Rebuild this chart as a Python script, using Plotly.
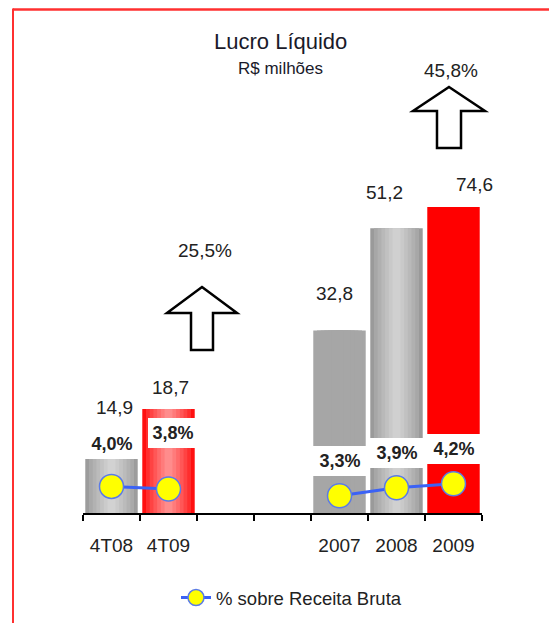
import plotly.graph_objects as go

# ---- data ----
categories = ["4T08", "4T09", "", "", "2007", "2008", "2009"]
bar_categories = ["4T08", "4T09", "2007", "2008", "2009"]
lucro = [14.9, 18.7, 32.8, 51.2, 74.6]
pct_receita = [4.0, 3.8, None, None, 3.3, 3.9, 4.2]
growth_labels = ["25,5%", "45,8%"]
title_text = "Lucro Líquido"
subtitle_text = "R$ milhões"
legend_name = "% sobre Receita Bruta"

# ---- style ----
FONT = "Liberation Sans, Arial, sans-serif"
TXT = "#222222"
edge_colors = ["#9C9C9C", "#FF1010", "#A6A6A6", "#9A9A9A", "#FF0000"]
center_colors = ["#D2D2D2", "#FF8C8C", "#A6A6A6", "#D0D0D0", "#FF0000"]
OFF = 8                      # page body margin of the html page
W, H = 557 - OFF, 623 - OFF  # figure size so it fills the window exactly
# plot area in page pixels: x 83..482, y 207..513
ML, MT = 83 - OFF, 207 - OFF
MR, MB = W - (482 - OFF), H - (513 - OFF)
Y1_MAX = 55
Y2_RANGE = [2.0, 25.0]
BAR_W = 0.92

def fmt(v, suffix=""):
    return f"{v:.1f}".replace(".", ",") + suffix

def hex2rgb(h):
    h = h.lstrip("#")
    return [int(h[i:i + 2], 16) for i in (0, 2, 4)]

def mix(a, b, t):
    ra, rb = hex2rgb(a), hex2rgb(b)
    return "rgb(%d,%d,%d)" % tuple(round(x + (y - x) * t) for x, y in zip(ra, rb))

# page pixel -> paper coordinates
def px(x):
    return (x - OFF - ML) / (W - ML - MR)

def py(y):
    return (H - MB - (y - OFF)) / (H - MT - MB)

# category slots on a linear axis (blank slots keep the gap between groups)
slot = list(range(len(categories)))
bar_slot = [categories.index(c) for c in bar_categories]

fig = go.Figure()

# bars drawn as nested layers to mimic the cylinder shading
n_layers = 7
for k in range(n_layers):
    t = k / (n_layers - 1)
    w = BAR_W * (1 - 0.85 * t)
    cols = [mix(e, c, t ** 0.8) for e, c in zip(edge_colors, center_colors)]
    fig.add_trace(go.Bar(
        x=bar_slot, y=lucro, width=[w] * len(lucro),
        marker=dict(color=cols, line=dict(width=0)),
        showlegend=False, hoverinfo="skip",
    ))

fig.add_trace(go.Scatter(
    x=slot, y=pct_receita, yaxis="y2", name=legend_name,
    mode="lines+markers", connectgaps=False,
    line=dict(color="#3B62F5", width=3),
    marker=dict(color="#FFFF00", size=24, line=dict(color="#5A7BE8", width=1.5)),
))

annotations = []
# value labels above bars
val_dx = [3, 2, -5, -12, 21]
val_dy = [23, 21, 37, 36, 23]
for s, v, dx, dy in zip(bar_slot, lucro, val_dx, val_dy):
    annotations.append(dict(
        x=s, y=min(v, Y1_MAX), xref="x", yref="y", text=fmt(v), showarrow=False,
        xanchor="center", yanchor="middle",
        xshift=dx, yshift=dy, font=dict(family=FONT, size=19, color=TXT),
    ))

# percent labels in white boxes
pct_points = [(s, p) for s, p in zip(slot, pct_receita) if p is not None]
pct_dx = [0, 4, 0, 0, 0]
pct_dy = [42, 56, 35, 35, 35]
pct_w = [54, 50, 56, 56, 56]
for (s, p), dx, dy, bw in zip(pct_points, pct_dx, pct_dy, pct_w):
    annotations.append(dict(
        x=s, y=p, xref="x", yref="y2", text="<b>" + fmt(p, "%") + "</b>",
        showarrow=False, xanchor="center", yanchor="middle",
        xshift=dx, yshift=dy, width=bw, height=30,
        bgcolor="white", borderpad=0, borderwidth=0,
        font=dict(family=FONT, size=18, color=TXT),
    ))

# titles
annotations.append(dict(x=px(280), y=py(42), xref="paper", yref="paper", text=title_text,
                        showarrow=False, xanchor="center", yanchor="middle",
                        font=dict(family=FONT, size=22, color="#1a1a2a")))
annotations.append(dict(x=px(280), y=py(68), xref="paper", yref="paper", text=subtitle_text,
                        showarrow=False, xanchor="center", yanchor="middle",
                        font=dict(family=FONT, size=17, color="#1a1a2a")))

# growth arrows
arrow_specs = [
    # tip x, tip y, head base y, head half width, shaft half width, bottom y, label y, label x
    (202, 287, 313, 35, 11, 350, 250, 205),
    (449, 87, 111, 36, 12, 148, 70, 451),
]
shapes = []
for (tx, ty, hb, hw, sw, bot, ly, lx), lab in zip(arrow_specs, growth_labels):
    pts = [(tx, ty), (tx + hw, hb), (tx + sw, hb), (tx + sw, bot),
           (tx - sw, bot), (tx - sw, hb), (tx - hw, hb)]
    path = "M " + " L ".join(f"{px(a):.4f},{py(b):.4f}" for a, b in pts) + " Z"
    shapes.append(dict(type="path", path=path, xref="paper", yref="paper",
                       line=dict(color="black", width=2.5), fillcolor="white"))
    annotations.append(dict(x=px(lx), y=py(ly), xref="paper", yref="paper", text=lab,
                            showarrow=False, xanchor="center", yanchor="middle",
                            font=dict(family=FONT, size=19, color=TXT)))

# red frame (top and left edges); top edge sits at the very top of the figure
shapes.append(dict(type="line", xref="paper", yref="paper", x0=px(13), x1=px(570),
                   y0=py(OFF + 1.5), y1=py(OFF + 1.5), line=dict(color="#FF3030", width=2.5)))
shapes.append(dict(type="line", xref="paper", yref="paper", x0=px(13), x1=px(13),
                   y0=py(OFF + 0.5), y1=py(640), line=dict(color="#FF3030", width=2)))

fig.update_layout(
    width=W, height=H,
    margin=dict(l=ML, r=MR, t=MT, b=MB, autoexpand=False),
    paper_bgcolor="white", plot_bgcolor="white",
    barmode="overlay",
    font=dict(family=FONT, color=TXT),
    xaxis=dict(range=[-0.5, len(categories) - 0.5], tickmode="array",
               tickvals=slot, ticktext=categories, ticks="",
               showline=True, linecolor="black", linewidth=1.5,
               minor=dict(tickmode="array", tickvals=[i - 0.5 for i in range(len(categories) + 1)],
                          ticks="outside", ticklen=6, tickcolor="black", tickwidth=1.5, showgrid=False),
               showgrid=False, zeroline=False, automargin=False,
               tickfont=dict(family=FONT, size=19, color=TXT), ticklabelstandoff=14),
    yaxis=dict(range=[0, Y1_MAX], visible=False, showgrid=False, automargin=False),
    yaxis2=dict(range=Y2_RANGE, overlaying="y", side="right", visible=False, showgrid=False,
                automargin=False),
    showlegend=True,
    legend=dict(orientation="h", x=px(176), y=py(598), xanchor="left", yanchor="middle",
                font=dict(family=FONT, size=18.5, color=TXT), bgcolor="rgba(0,0,0,0)"),
    annotations=annotations,
    shapes=shapes,
)

fig.write_html("out.html")
